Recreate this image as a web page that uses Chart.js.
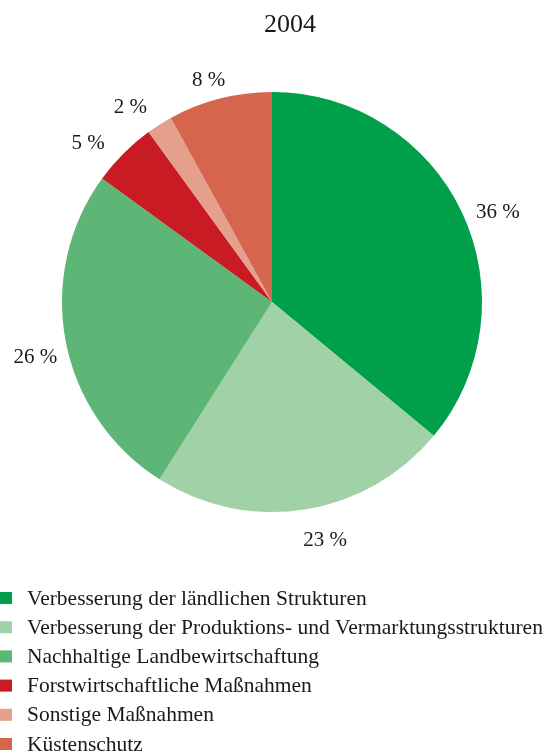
<!DOCTYPE html>
<html>
<head>
<meta charset="utf-8">
<script src="https://cdn.jsdelivr.net/npm/chart.js@4/dist/chart.umd.min.js"></script>
<style>
  html, body { margin: 0; padding: 0; background: #fff; }
  #wrap { width: 544px; height: 753px; position: relative; }
</style>
</head>
<body>
<div id="wrap"><canvas id="pie"></canvas></div>
<script>
// data
const chartTitle = '2004';
const categories = [
  'Verbesserung der ländlichen Strukturen',
  'Verbesserung der Produktions- und Vermarktungsstrukturen',
  'Nachhaltige Landbewirtschaftung',
  'Forstwirtschaftliche Maßnahmen',
  'Sonstige Maßnahmen',
  'Küstenschutz'
];
const shares = [36, 23, 26, 5, 2, 8];
const colors = ['#009f4a', '#a1d1a7', '#5db576', '#c91b24', '#e4a08c', '#d6654d'];

// label placement tweaks (degrees off the slice middle, px past the rim)
const labelTurn = [3.5, -3.6, -2.3, -4.2, -3.6, -1.6];
const labelGap = [33, 34, 33, 33, 31, 20];

const FONT = '"Liberation Serif", "Times New Roman", serif';

// percent labels outside the slices + title + legend
const decor = {
  id: 'decor',
  afterDraw(chart) {
    const ctx = chart.ctx;
    const meta = chart.getDatasetMeta(0);
    ctx.save();
    ctx.fillStyle = '#1a1a1a';

    // title
    ctx.font = '26px ' + FONT;
    ctx.textAlign = 'center';
    ctx.textBaseline = 'middle';
    ctx.fillText(chartTitle, 290, 25);

    // slice labels
    ctx.font = '21px ' + FONT;
    meta.data.forEach((arc, i) => {
      const p = arc.getProps(['x', 'y', 'startAngle', 'endAngle', 'outerRadius'], true);
      const a = (p.startAngle + p.endAngle) / 2 + labelTurn[i] * Math.PI / 180;
      const d = p.outerRadius + labelGap[i];
      ctx.fillText(shares[i] + ' %', p.x + Math.cos(a) * d, p.y + Math.sin(a) * d);
    });

    // legend
    ctx.textAlign = 'left';
    ctx.font = '21.5px ' + FONT;
    categories.forEach((c, i) => {
      const y = 598 + i * 29.2;
      ctx.fillStyle = colors[i];
      ctx.fillRect(0, y - 6, 12, 12);
      ctx.fillStyle = '#1a1a1a';
      ctx.fillText(c, 27, y + 1);
    });
    ctx.restore();
  }
};

new Chart(document.getElementById('pie'), {
  type: 'pie',
  data: {
    labels: categories,
    datasets: [{
      data: shares,
      backgroundColor: colors,
      borderWidth: 0
    }]
  },
  options: {
    responsive: true,
    maintainAspectRatio: false,
    animation: false,
    layout: { padding: { top: 92, left: 62, right: 62, bottom: 241 } },
    plugins: {
      legend: { display: false },
      tooltip: { enabled: false }
    }
  },
  plugins: [decor]
});
</script>
</body>
</html>
